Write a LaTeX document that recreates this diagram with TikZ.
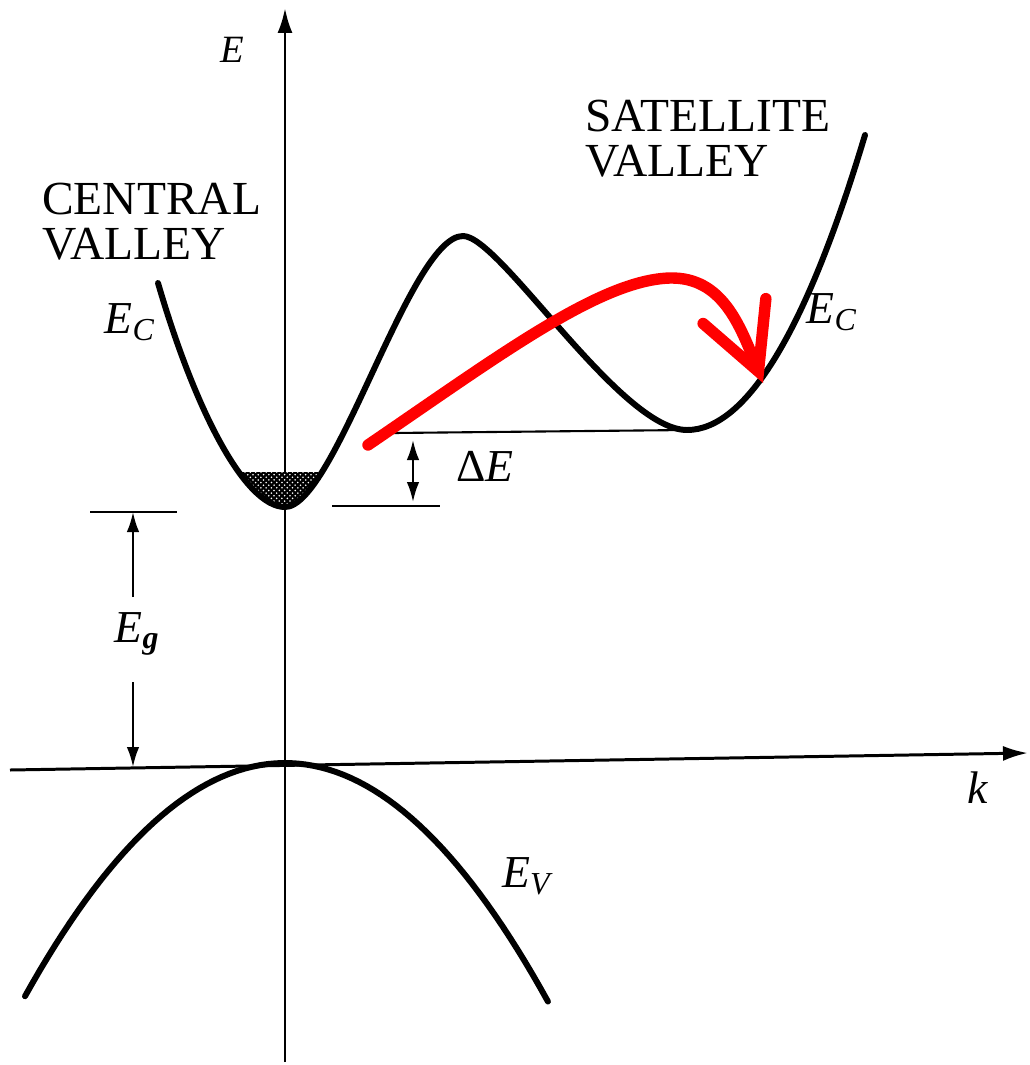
\documentclass[tikz,border=0pt]{standalone}
\usepackage{fontspec}
\setmainfont{Liberation Serif}
\usetikzlibrary{arrows.meta, patterns}

\begin{document}
\begin{tikzpicture}[x=0.02cm, y=-0.02cm]
    \tikzstyle{axis} = [line width=1.7pt, -{Latex[length=0.5cm, width=0.3cm]}]
    \tikzstyle{band} = [line width=3.4pt, line cap=round, line join=round]
    \tikzstyle{level} = [line width=1.2pt]
    \tikzstyle{gap} = [line width=1.2pt, -{Latex[length=0.4cm, width=0.25cm]}]
    \tikzstyle{label} = [inner sep=0pt, font=\fontsize{26}{26}\selectfont]
    \tikzstyle{valley} = [inner sep=0pt, align=left, anchor=north west, font=\fontsize{27}{25.5}\selectfont]
    \tikzstyle{hop} = [line width=6.5pt, red, line cap=round, -{Straight Barb[length=1.3cm, width=1.35cm, line cap=round]}]
    \def\cband{(158,283) .. controls (195,410) and (245,507) .. (285,507)
        .. controls (335,507) and (410,236) .. (463,236)
        .. controls (500,236) and (620,430) .. (687,430)
        .. controls (746,430) and (806,332) .. (865,135)}

    \useasboundingbox (0,0) rectangle (1029,1065);

    % axes
    \coordinate (ebot) at (285,1062);
    \coordinate (etop) at (285,8);
    \coordinate (kleft) at (10,770);
    \coordinate (kright) at (1028,753);
    \draw[axis] (ebot) -- (etop);
    \draw[axis] (kleft) -- (kright);
    \node[label, font=\fontsize{22}{22}\selectfont] (elbl) at (232,50) {\textit{E}};
    \node[label] (klbl) at (978,788) {\textit{k}};

    % electrons in the central valley
    \begin{scope}
        \clip (200,472) rectangle (370,520);
        \fill[black] \cband -- cycle;
        \fill[pattern=crosshatch dots, pattern color=white] \cband -- cycle;
    \end{scope}

    % bands
    \draw[band] \cband;
    \draw[band] plot[domain=-2.6:2.63, samples=70] ({285+100*\x}, {763+34.5*\x*\x});

    % energy levels
    \coordinate (dEtop) at (393,433);
    \coordinate (satmin) at (687,430);
    \coordinate (dEleft) at (332,506);
    \coordinate (dEright) at (440,506);
    \coordinate (dEa) at (413,440);
    \coordinate (dEb) at (413,502);
    \draw[level] (dEtop) -- (satmin);
    \draw[level] (dEleft) -- (dEright);
    \draw[level, {Latex[length=0.4cm, width=0.25cm]}-{Latex[length=0.4cm, width=0.25cm]}] (dEa) -- (dEb);

    \coordinate (gleft) at (90,512);
    \coordinate (gright) at (177,512);
    \coordinate (gtop) at (133,512);
    \coordinate (gup) at (133,597);
    \coordinate (gdown) at (133,682);
    \coordinate (gbot) at (133,767);
    \draw[level] (gleft) -- (gright);
    \draw[gap] (gup) -- (gtop);
    \draw[gap] (gdown) -- (gbot);

    % labels
    \node[label] (ecl) at (130,322) {\textit{E}\textsubscript{\textit{C}}};
    \node[label] (ecr) at (832,312) {\textit{E}\textsubscript{\textit{C}}};
    \node[label] (ev) at (528,876) {\textit{E}\textsubscript{\textit{V}}};
    \node[label] (de) at (485,466) {Δ\textit{E}};
    \node[label] (eg) at (137,634) {\textit{E}\textsubscript{\textbf{\textit{g}}}};
    \node[valley] (central) at (42,183) {CENTRAL\\VALLEY};
    \node[valley] (satellite) at (585,100) {SATELLITE\\VALLEY};

    % intervalley transfer
    \coordinate (hopstart) at (368,445);
    \coordinate (hoptop) at (670,278);
    \coordinate (hopend) at (763,383);
    \draw[hop] (hopstart) .. controls (500,355) and (600,280) .. (hoptop) .. controls (722,277) and (740,325) .. (hopend);
\end{tikzpicture}
\end{document}
